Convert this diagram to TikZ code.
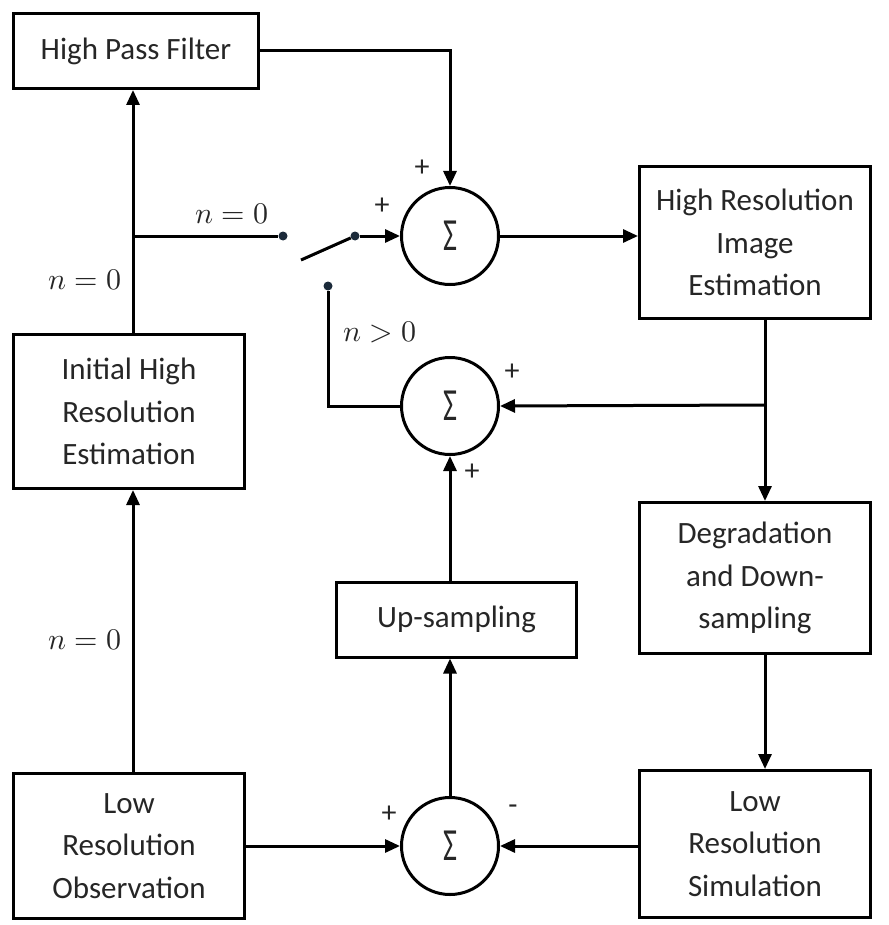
\documentclass[tikz,border=0pt]{standalone}
\usepackage{fontspec}
\usepackage{unicode-math}
\setmainfont{Carlito}
\setmathfont{Latin Modern Math}
\usetikzlibrary{arrows.meta}
\definecolor{dotc}{HTML}{1B2A3A}
\definecolor{txt}{HTML}{262626}
\begin{document}
\begin{tikzpicture}[x=1pt,y=-1pt,
  blk/.style={draw,line width=3pt,align=center,text=txt,
    font=\fontsize{31}{42.5}\selectfont,inner sep=0pt},
  sumnode/.style={draw,circle,line width=3pt,minimum size=97pt,inner sep=0pt,
    text=txt,font=\fontsize{46}{46}\selectfont},
  wire/.style={line width=3pt},
  arr/.style={wire,-{Triangle[length=15pt,width=13pt]}},
  contact/.style={circle,fill=dotc,inner sep=0pt,minimum size=9pt},
  sgn/.style={text=txt,font=\fontsize{30}{30}\selectfont,inner sep=0pt},
  lbl/.style={text=txt,font=\fontsize{30}{30}\selectfont,inner sep=0pt}]
\useasboundingbox (0,0) rectangle (888,925);

% blocks
\node[blk,minimum width=245pt,minimum height=75pt] (hpf) at (136,51) {High Pass Filter};
\node[blk,minimum width=231pt,minimum height=154pt] (ihr) at (129,411.5) {Initial High\\Resolution\\Estimation};
\node[blk,minimum width=231pt,minimum height=145pt] (lro) at (129,846) {Low\\Resolution\\Observation};
\node[blk,minimum width=231pt,minimum height=152pt] (hri) at (755,242.5) {High Resolution\\Image\\Estimation};
\node[blk,minimum width=231pt,minimum height=151pt] (deg) at (755,578) {Degradation\\and Down-\\sampling};
\node[blk,minimum width=231pt,minimum height=147pt] (lrs) at (755,844) {Low\\Resolution\\Simulation};
\node[blk,minimum width=240pt,minimum height=75pt] (ups) at (456.5,619.5) {Up-sampling};

% summing junctions
\node[sumnode] (s1) at (450,236) {\scalebox{0.66}[1]{Σ}};
\node[sumnode] (s2) at (450,406) {\scalebox{0.66}[1]{Σ}};
\node[sumnode] (s3) at (450,846) {\scalebox{0.66}[1]{Σ}};

% switch contacts
\node[contact] (c1) at (283,236) {};
\node[contact] (c2) at (355,236) {};
\node[contact] (c3) at (328,286) {};
\coordinate (piv) at (301,260);
\coordinate (lft) at (133,0);
\coordinate (rgt) at (765,0);
\coordinate (jl) at (133,236);
\coordinate (jr) at (765,405);

% connections
\draw[arr] (lro.north -| lft) -- (ihr.south -| lft);
\draw[arr] (ihr.north -| lft) -- (hpf.south -| lft);
\draw[wire] (jl) -- (c1);
\draw[wire] (piv) -- (c2);
\draw[arr] (c2) -- (s1.west);
\draw[arr] (hpf.east) -| (s1.north);
\draw[arr] (s1.east) -- (s1.east -| hri.west);
\draw[arr] (hri.south -| rgt) -- (deg.north -| rgt);
\draw[arr] (jr) -- (s2.east);
\draw[arr] (deg.south -| rgt) -- (lrs.north -| rgt);
\draw[wire] (s2.west) -| (c3);
\draw[arr] (lro.east |- s3.west) -- (s3.west);
\draw[arr] (lrs.west |- s3.east) -- (s3.east);
\draw[arr] (s3.north) -- (ups.south -| s3.north);
\draw[arr] (ups.north -| s2.south) -- (s2.south);

% signs
\node[sgn] (p1) at (422,168) {+};
\node[sgn] (p2) at (382,206) {+};
\node[sgn] (p3) at (512,372) {+};
\node[sgn] (p4) at (472,472) {+};
\node[sgn] (p5) at (389,814) {+};
\node[sgn] (p6) at (513,810) {-};

% switch labels
\node[lbl] (l1) at (232,214) {$n=0$};
\node[lbl] (l2) at (85,280) {$n=0$};
\node[lbl] (l3) at (85,640) {$n=0$};
\node[lbl] (l4) at (380,332) {$n>0$};
\end{tikzpicture}
\end{document}
